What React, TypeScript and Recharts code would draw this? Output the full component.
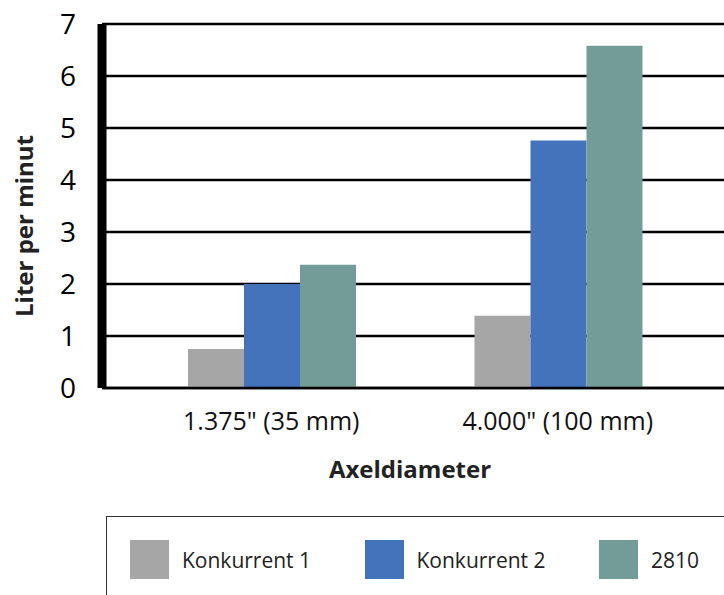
import { BarChart, Bar, XAxis, YAxis, CartesianGrid, Legend, Label } from 'recharts';

const categories = ['1.375" (35 mm)', '4.000" (100 mm)'];
const konkurrent1 = [0.75, 1.39];
const konkurrent2 = [2.0, 4.76];
const model2810 = [2.37, 6.58];
const yTicks = [0, 1, 2, 3, 4, 5, 6, 7];

const series = [
  { key: 'k1', name: 'Konkurrent 1', color: '#A6A6A6' },
  { key: 'k2', name: 'Konkurrent 2', color: '#4573BB' },
  { key: 's2810', name: '2810', color: '#739C98' },
];

const data = categories.map((name, i) => ({
  name,
  k1: konkurrent1[i],
  k2: konkurrent2[i],
  s2810: model2810[i],
}));

const FONT = '"Open Sans", sans-serif';

// legend keeps the series order (recharts sorts payload by name otherwise)
function LegendBox() {
  return (
    <div
      style={{
        width: '100%',
        height: '100%',
        boxSizing: 'border-box',
        borderTop: '1.5px solid #333',
        borderLeft: '1.5px solid #333',
        paddingLeft: 23,
        paddingTop: 23,
        display: 'flex',
        fontFamily: FONT,
      }}
    >
      {series.map((s) => (
        <div key={s.key} style={{ width: 234.5, flexShrink: 0, display: 'flex', alignItems: 'center', height: 39 }}>
          <div style={{ width: 39, height: 39, background: s.color, marginRight: 13 }} />
          <span style={{ fontSize: 21, color: '#222' }}>{s.name}</span>
        </div>
      ))}
    </div>
  );
}

export default function App() {
  return (
    <div style={{ position: 'absolute', left: 0, top: 0, width: 724, height: 595, overflow: 'hidden', background: '#fff' }}>
      <BarChart
        width={724}
        height={595}
        data={data}
        margin={{ top: 24, right: 0, bottom: 147, left: 0 }}
        barCategoryGap={60}
        barGap={0}
        style={{ fontFamily: FONT }}
      >
        <CartesianGrid vertical={false} stroke="#000" strokeWidth={2.5} />
        {series.map((s) => (
          <Bar key={s.key} dataKey={s.key} name={s.name} fill={s.color} isAnimationActive={false} />
        ))}
        <XAxis
          dataKey="name"
          height={60}
          padding={{ left: 26, right: 23 }}
          axisLine={{ stroke: '#000', strokeWidth: 2.5 }}
          tickLine={false}
          tickSize={0}
          tickMargin={24}
          tick={{ fontSize: 25, fill: '#111' }}
        >
          <Label
            content={() => (
              <text x={410} y={478} textAnchor="middle" fontSize={24} fontWeight="bold" fill="#222" fontFamily={FONT}>
                Axeldiameter
              </text>
            )}
          />
        </XAxis>
        <YAxis
          width={102}
          domain={[0, 7]}
          ticks={yTicks}
          interval={0}
          axisLine={{ stroke: '#000', strokeWidth: 9 }}
          tickLine={false}
          tickSize={0}
          tickMargin={26}
          tick={{ fontSize: 28, fill: '#000' }}
        >
          <Label
            content={() => (
              <text
                x={23}
                y={226}
                transform="rotate(-90 23 226)"
                textAnchor="middle"
                dominantBaseline="central"
                fontSize={24}
                fontWeight="bold"
                fill="#222"
                fontFamily={FONT}
              >
                Liter per minut
              </text>
            )}
          />
        </YAxis>
        <Legend
          layout="horizontal"
          verticalAlign="middle"
          align="center"
          wrapperStyle={{ left: 106, top: 516, width: 700, height: 120 }}
          content={LegendBox}
        />
      </BarChart>
    </div>
  );
}
